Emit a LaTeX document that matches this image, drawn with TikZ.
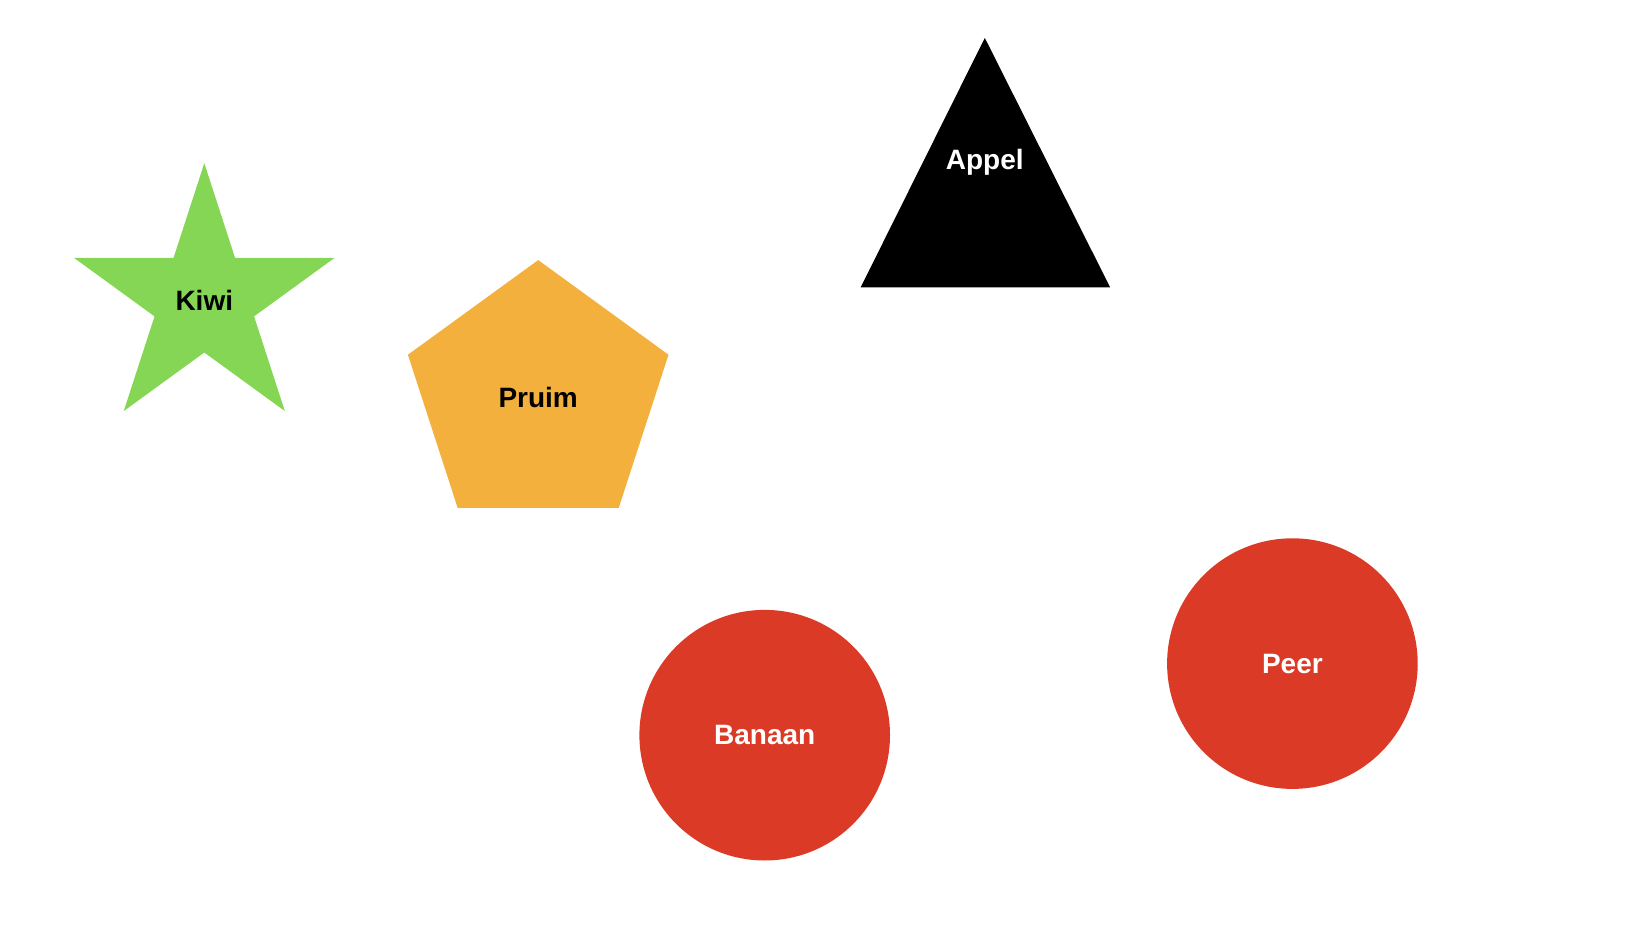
\documentclass[tikz,border=0pt]{standalone}
\usepackage{fontspec}
\setmainfont{Liberation Sans}
\usepackage{xcolor}
\usepackage{tikz}
\usetikzlibrary{shapes.geometric}

\definecolor{kiwigreen}{HTML}{84D654}
\definecolor{pruimorange}{HTML}{F3B03D}
\definecolor{fruitred}{HTML}{DB3A26}

\begin{document}
\begin{tikzpicture}[x=0.5pt, y=-0.5pt,
    fruitlabel/.style={font=\fontsize{14}{16}\selectfont\bfseries, inner sep=0pt},
    fruitstar/.style={star, star points=5, star point ratio=2.618, minimum size=137pt, fill=kiwigreen, inner sep=0pt},
    fruitpenta/.style={regular polygon, regular polygon sides=5, minimum size=137pt, fill=pruimorange, inner sep=0pt},
    fruitdisc/.style={circle, minimum size=125.3pt, fill=fruitred, text=white, inner sep=0pt}
]
    % page size
    \useasboundingbox (0,0) rectangle (1650,946);

    % Star and pentagon
    \node[fruitstar, fruitlabel] (kiwi) at (204.3,300.2) {Kiwi};
    \node[fruitpenta, fruitlabel] (pruim) at (538.2,397.1) {Pruim};

    % Triangle
    \coordinate (appeltop) at (984.8,37.9);
    \coordinate (appelleft) at (860.6,287.5);
    \coordinate (appelright) at (1110.2,287.5);
    \fill[black] (appeltop) -- (appelright) -- (appelleft) -- cycle;
    \node[fruitlabel, text=white] (appel) at (984.8,162.5) {Appel};

    % Circles
    \node[fruitdisc, fruitlabel] (banaan) at (764.7,735.2) {Banaan};
    \node[fruitdisc, fruitlabel] (peer) at (1292.4,663.6) {Peer};
\end{tikzpicture}
\end{document}
